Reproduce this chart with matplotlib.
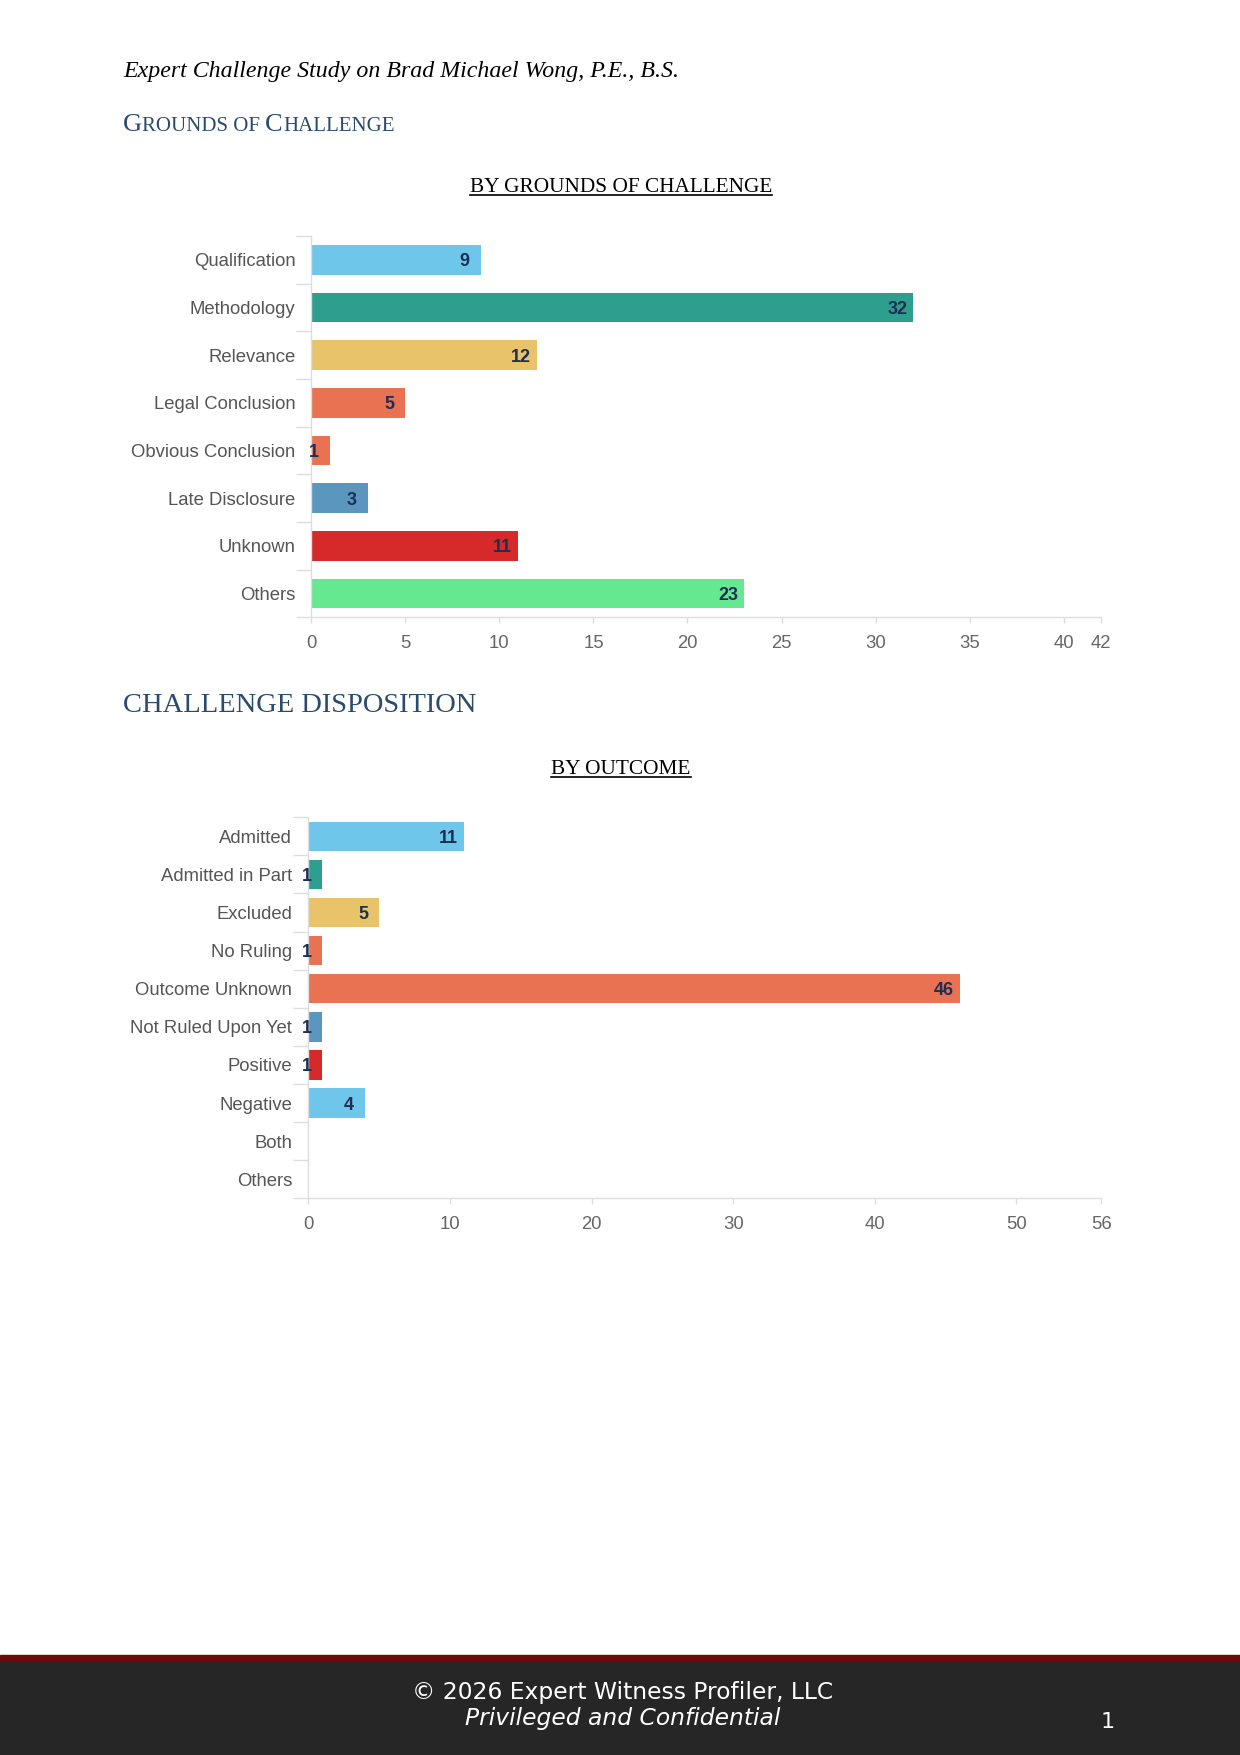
import matplotlib
matplotlib.use("Agg")
import matplotlib.pyplot as plt
from matplotlib.patches import Rectangle
from matplotlib.lines import Line2D

# ---- data ----
grounds = ["Qualification", "Methodology", "Relevance", "Legal Conclusion",
           "Obvious Conclusion", "Late Disclosure", "Unknown", "Others"]
grounds_counts = [9, 32, 12, 5, 1, 3, 11, 23]
grounds_colors = ["#6ec6ea", "#2e9e8f", "#e8c36a", "#e87252",
                  "#e87252", "#5b96bf", "#d62a2a", "#66e890"]
grounds_ticks = [0, 5, 10, 15, 20, 25, 30, 35, 40, 42]

outcomes = ["Admitted", "Admitted in Part", "Excluded", "No Ruling",
            "Outcome Unknown", "Not Ruled Upon Yet", "Positive", "Negative",
            "Both", "Others"]
outcome_counts = [11, 1, 5, 1, 46, 1, 1, 4, 0, 0]
outcome_colors = ["#6ec6ea", "#2e9e8f", "#e8c36a", "#e87252", "#e87252",
                  "#5b96bf", "#d62a2a", "#6ec6ea", "#6ec6ea", "#6ec6ea"]
outcome_ticks = [0, 10, 20, 30, 40, 50, 56]

W, H = 1240, 1755
HEAD_BLUE = "#2a4b6e"
LABEL_NAVY = "#1c2f52"

fig = plt.figure(figsize=(W / 100, H / 100), dpi=100)


def px(x, y):
    """pixel (from top-left) -> figure fraction"""
    return x / W, 1 - y / H


def hbar_chart(rect, cats, vals, colors, ticks, bar_h):
    ax = fig.add_axes(rect)
    ypos = list(range(len(cats)))
    ax.barh(ypos, vals, height=bar_h, color=colors, zorder=2)
    ax.set_xlim(0, ticks[-1])
    ax.set_ylim(len(cats) - 0.5, -0.5)
    ax.set_yticks(ypos)
    ax.set_yticklabels(cats, family="Liberation Sans", fontsize=13.3,
                       color="#555555")
    ax.set_yticks([i - 0.5 for i in range(len(cats) + 1)], minor=True)
    ax.tick_params(axis="y", which="major", length=0, pad=11.5)
    ax.tick_params(axis="y", which="minor", length=11, color="#dddddd",
                   width=1)
    ax.set_xticks(ticks)
    ax.set_xticklabels([str(t) for t in ticks], family="Liberation Sans",
                       fontsize=13.3, color="#666666")
    ax.tick_params(axis="x", length=4, color="#dddddd", width=1, pad=9)
    for s in ["top", "right"]:
        ax.spines[s].set_visible(False)
    for s in ["left", "bottom"]:
        ax.spines[s].set_color("#dddddd")
        ax.spines[s].set_linewidth(1)
    # value labels sit just inside the end of each bar
    for y, v in zip(ypos, vals):
        if v <= 0:
            continue
        ax.annotate(str(v), (v, y), xytext=(-11.5, 0),
                    textcoords="offset points", ha="center",
                    va="center_baseline",
                    fontsize=13, fontweight="bold", color=LABEL_NAVY,
                    family="Liberation Sans", zorder=3)
    return ax


renderer = fig.canvas.get_renderer()


def pieces(x, y, parts, color, family="Liberation Serif"):
    """draw consecutive text pieces (for small caps) starting at pixel x"""
    cx = x
    for txt, size in parts:
        fx, fy = px(cx, y)
        t = fig.text(fx, fy, txt, fontsize=size, color=color, family=family,
                     ha="left", va="baseline")
        bb = t.get_window_extent(renderer=renderer)
        cx += bb.width


def underlined(cx, y, txt, size):
    fx, fy = px(cx, y)
    t = fig.text(fx, fy, txt, fontsize=size, color="black",
                 family="Liberation Serif", ha="center", va="baseline")
    bb = t.get_window_extent(renderer=renderer)
    uy = 1 - (y + 3) / H
    fig.add_artist(Line2D([bb.x0 / W, bb.x1 / W], [uy, uy],
                          color="black", lw=1.2))


# header
fx, fy = px(123, 77)
fig.text(fx, fy, "Expert Challenge Study on Brad Michael Wong, P.E., B.S.",
         fontsize=17.2, style="italic", family="Liberation Serif",
         color="black", ha="left", va="baseline")

pieces(123, 131, [("G", 19), ("ROUNDS OF ", 15), ("C", 19), ("HALLENGE", 15)],
       HEAD_BLUE)
underlined(621, 192, "BY GROUNDS OF CHALLENGE", 15.3)

# chart 1
x0, x1 = 311.3, 1101.3
top, bot = 236.0, 617.3
hbar_chart([x0 / W, 1 - bot / H, (x1 - x0) / W, (bot - top) / H],
           grounds, grounds_counts, grounds_colors, grounds_ticks, 0.62)

fx, fy = px(123, 712)
fig.text(fx, fy, "CHALLENGE DISPOSITION", fontsize=20.5, color=HEAD_BLUE,
         family="Liberation Serif", ha="left", va="baseline")
underlined(621, 774, "BY OUTCOME", 15.3)

# chart 2
x0, x1 = 308.3, 1101.3
top, bot = 817.3, 1198.3
hbar_chart([x0 / W, 1 - bot / H, (x1 - x0) / W, (bot - top) / H],
           outcomes, outcome_counts, outcome_colors, outcome_ticks, 0.77)

# footer
fig.add_artist(Rectangle((0, 0), 1, 1 - 1661 / H, transform=fig.transFigure,
                         color="#262626", zorder=0))
fig.add_artist(Rectangle((0, 1 - 1661 / H), 1, 6 / H,
                         transform=fig.transFigure, color="#6b0a0a", zorder=0))
fx, fy = px(623, 1693)
fig.text(fx, fy, "\u00a9 2026 Expert Witness Profiler, LLC", fontsize=16.8,
         color="white", family="DejaVu Sans", ha="center", va="center")
fx, fy = px(623, 1719)
fig.text(fx, fy, "Privileged and Confidential", fontsize=16.8, style="italic",
         color="white", family="DejaVu Sans", ha="center", va="center")
fx, fy = px(1108, 1722)
fig.text(fx, fy, "1", fontsize=16, color="white", family="DejaVu Sans",
         ha="center", va="center")

fig.savefig("out.png", dpi=100)
